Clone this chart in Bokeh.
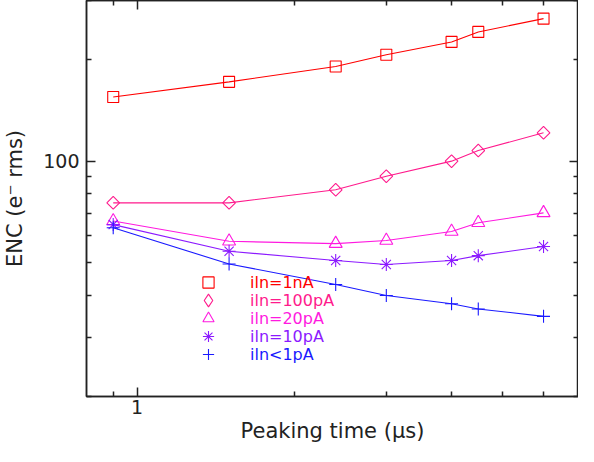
import math
from bokeh.plotting import figure
from bokeh.models import LogAxis, FixedTicker, Legend, LegendItem, PrintfTickFormatter, Range1d
from bokeh.embed import file_html
from bokeh.resources import INLINE

# Data
peaking_time = [0.9, 1.5, 2.4, 3.0, 4.0, 4.5, 6.0]
enc_1nA = [155, 172, 191, 207, 226, 242, 265]
enc_100pA = [75.2, 75.2, 82.2, 90.2, 100, 107.5, 121.4]
enc_20pA = [66.4, 57.8, 56.9, 58.1, 61.8, 65.6, 70.2]
enc_10pA = [64.8, 54.0, 50.7, 49.3, 50.7, 52.4, 55.8]
enc_1pA = [63.4, 49.5, 43.0, 39.9, 37.7, 36.4, 34.6]

labels = ["iln=1nA", "iln=100pA", "iln=20pA", "iln=10pA", "iln<1pA"]
colors = ["#ff0000", "#ff1a8c", "#ff1ae0", "#8c1aff", "#1a1aff"]
markers = ["square", "square", "triangle", "asterisk", "cross"]
legend_markers = ["square", "diamond", "triangle", "asterisk", "cross"]
angles = [0, math.pi / 4, 0, 0, 0]
sizes = [11, 9, 13, 13, 13]
series = [enc_1nA, enc_100pA, enc_20pA, enc_10pA, enc_1pA]

x_ticks = [1]
x_minor = [0.9, 2, 3, 4, 5, 6]
y_ticks = [100]
y_minor = [20, 30, 40, 50, 60, 70, 80, 90, 200, 300]

FONT = "DejaVu Sans"

p = figure(width=578, height=446,
           x_axis_type="log", y_axis_type="log",
           x_range=Range1d(0.8, 7), y_range=Range1d(20, 300),
           output_backend="svg", toolbar_location=None,
           min_border_left=84, min_border_right=0, min_border_top=0, min_border_bottom=50)
p.grid.visible = False
p.outline_line_color = "#222222"
p.outline_line_width = 1.5
p.background_fill_color = "white"
p.border_fill_color = "white"

top = LogAxis()
right = LogAxis()
p.add_layout(top, "above")
p.add_layout(right, "right")

for ax, tk, mn in [(p.below[0], x_ticks, x_minor), (top, x_ticks, x_minor),
                   (p.left[0], y_ticks, y_minor), (right, y_ticks, y_minor)]:
    ax.ticker = FixedTicker(ticks=tk, minor_ticks=mn)
    ax.formatter = PrintfTickFormatter(format="%d")
    ax.major_tick_in = 9
    ax.major_tick_out = 0
    ax.minor_tick_in = 5
    ax.minor_tick_out = 0
    ax.axis_line_color = "#222222"
    ax.axis_line_width = 1.5
    ax.major_tick_line_color = "#222222"
    ax.minor_tick_line_color = "#222222"
    ax.major_tick_line_width = 1.5
    ax.minor_tick_line_width = 1.5
    ax.major_label_text_font = FONT
    ax.major_label_text_font_size = "19px"
    ax.major_label_text_color = "#222222"
    ax.axis_label_text_font = FONT
    ax.axis_label_text_font_size = "21px"
    ax.axis_label_text_font_style = "normal"
    ax.axis_label_text_color = "#222222"

for ax in (top, right):
    ax.major_label_text_alpha = 0
    ax.major_label_text_font_size = "1px"
    ax.major_label_standoff = 0

p.below[0].axis_label = "Peaking time (\u03bcs)"
p.below[0].major_label_standoff = 3
p.below[0].axis_label_standoff = 2
p.left[0].axis_label = "ENC (e\u207b rms)"
p.left[0].major_label_standoff = 7
p.left[0].axis_label_standoff = 13

nan = float("nan")
legend_renderers = []
for col, mk, lmk, ang, sz, ys in zip(colors, markers, legend_markers, angles, sizes, series):
    p.line(peaking_time, ys, line_color=col, line_width=1.1)
    r = p.scatter(peaking_time, ys, marker=mk, size=sz, angle=ang, fill_color=None,
                  line_color=col, line_width=1.1)
    if lmk != mk:
        # legend-only renderer (placeholder NaN point) to show the key's marker shape
        r = p.scatter([nan], [nan], marker=lmk, size=sz, fill_color=None,
                      line_color=col, line_width=1.1)
    legend_renderers.append(r)

row_centers = [114, 96, 78, 60, 42]
glyph_sizes = [28, 32, 28, 28, 28]
for lab, col, r, yc, gs in zip(labels, colors, legend_renderers, row_centers, glyph_sizes):
    half = gs // 2
    lg = Legend(items=[LegendItem(label=lab, renderers=[r])],
                location=(122 - half, yc - half),
                border_line_color=None, background_fill_alpha=0, padding=0, margin=0,
                spacing=0, glyph_width=gs, glyph_height=gs, label_height=gs,
                label_standoff=int(164 - (122 + half)), label_text_color=col,
                label_text_font=FONT, label_text_font_size="16px")
    p.add_layout(lg, "center")

open("out.html", "w").write(file_html(p, INLINE))
